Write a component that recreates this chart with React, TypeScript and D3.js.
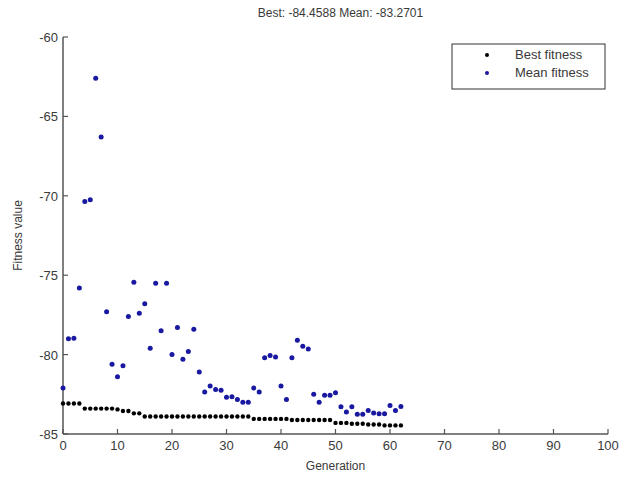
import React from "react";
import * as d3 from "d3";

const generations: number[] = d3.range(0, 63);

const bestFitness: number[] = [
  -83.08, -83.08, -83.08, -83.08, -83.4, -83.4, -83.4, -83.4, -83.4, -83.4,
  -83.45, -83.55, -83.55, -83.7, -83.7, -83.9, -83.9, -83.9, -83.9, -83.9,
  -83.9, -83.9, -83.9, -83.9, -83.9, -83.9, -83.9, -83.9, -83.9, -83.9,
  -83.9, -83.9, -83.9, -83.9, -83.9, -84.05, -84.05, -84.05, -84.05, -84.05,
  -84.05, -84.05, -84.12, -84.12, -84.12, -84.12, -84.12, -84.12, -84.12, -84.12,
  -84.3, -84.3, -84.3, -84.35, -84.35, -84.35, -84.4, -84.4, -84.4, -84.4588,
  -84.4588, -84.4588, -84.4588,
];

const meanFitness: number[] = [
  -82.1, -79.0, -78.97, -75.8, -70.36, -70.25, -62.6, -66.3, -77.3, -80.6,
  -81.4, -80.7, -77.6, -75.45, -77.4, -76.8, -79.6, -75.5, -78.5, -75.5,
  -80.0, -78.3, -80.3, -79.8, -78.4, -81.1, -82.35, -81.97, -82.2, -82.24,
  -82.68, -82.66, -82.83, -83.0, -83.0, -82.1, -82.35, -80.2, -80.06, -80.15,
  -81.97, -82.83, -80.2, -79.1, -79.48, -79.64, -82.5, -83.0, -82.56, -82.56,
  -82.41, -83.29, -83.62, -83.29, -83.75, -83.75, -83.52, -83.67, -83.73, -83.73,
  -83.2, -83.52, -83.2701,
];

const xTicks: number[] = [0, 10, 20, 30, 40, 50, 60, 70, 80, 90, 100];
const yTicks: number[] = [-60, -65, -70, -75, -80, -85];
const legendLabels: string[] = ["Best fitness", "Mean fitness"];
const titleText = "Best: -84.4588 Mean: -83.2701";
const xLabel = "Generation";
const yLabel = "Fitness value";

const W = 623;
const H = 477;
const left = 63;
const right = 608;
const top = 37;
const bottom = 434;
const font = "'Liberation Sans', Arial, sans-serif";
const textColor = "#3a3a3a";
const axisColor = "#555";
const blue = "#1818a0";

export default function App() {
  const x = d3.scaleLinear().domain([0, 100]).range([left, right]);
  const y = d3.scaleLinear().domain([-85, -60]).range([bottom, top]);
  const colors = ["#000", blue];

  return (
    <svg
      width={W}
      height={H}
      style={{ position: "absolute", left: 0, top: 0, background: "#fff" }}
      fontFamily={font}
    >
      <rect width={W} height={H} fill="#fff" />
      <text x={(left + right) / 2 + 5} y={17} textAnchor="middle" fontSize={12} fill={textColor}>
        {titleText}
      </text>
      {/* axes */}
      <line x1={left} x2={left} y1={top} y2={bottom} stroke={axisColor} strokeWidth={1.5} />
      <line x1={left} x2={right} y1={bottom} y2={bottom} stroke={axisColor} strokeWidth={1.5} />
      {xTicks.map((t) => (
        <g key={"x" + t}>
          <line x1={x(t)} x2={x(t)} y1={bottom} y2={bottom - 5} stroke={axisColor} strokeWidth={1.2} />
          <text x={x(t)} y={bottom + 16} textAnchor="middle" fontSize={13} fill={textColor}>
            {t}
          </text>
        </g>
      ))}
      {yTicks.map((t) => (
        <g key={"y" + t}>
          <line x1={left} x2={left + 5} y1={y(t)} y2={y(t)} stroke={axisColor} strokeWidth={1.2} />
          <text x={left - 5} y={y(t) + 5} textAnchor="end" fontSize={13} fill={textColor}>
            {t}
          </text>
        </g>
      ))}
      <text x={(left + right) / 2} y={bottom + 36} textAnchor="middle" fontSize={12} fill={textColor}>
        {xLabel}
      </text>
      <text
        transform={`translate(22, ${(top + bottom) / 2}) rotate(-90)`}
        textAnchor="middle"
        fontSize={12}
        fill={textColor}
      >
        {yLabel}
      </text>
      {/* data */}
      {generations.map((g, i) => (
        <circle key={"b" + i} cx={x(g)} cy={y(bestFitness[i])} r={2.2} fill="#000" />
      ))}
      {generations.map((g, i) => (
        <circle key={"m" + i} cx={x(g)} cy={y(meanFitness[i])} r={2.5} fill={blue} />
      ))}
      {/* legend */}
      <rect x={452} y={44} width={153} height={45} fill="#fff" stroke="#333" strokeWidth={1} />
      {legendLabels.map((lab, i) => (
        <g key={lab}>
          <circle cx={487} cy={55 + i * 18} r={2} fill={colors[i]} />
          <text x={515} y={59 + i * 18} fontSize={13} fill={textColor}>
            {lab}
          </text>
        </g>
      ))}
    </svg>
  );
}
